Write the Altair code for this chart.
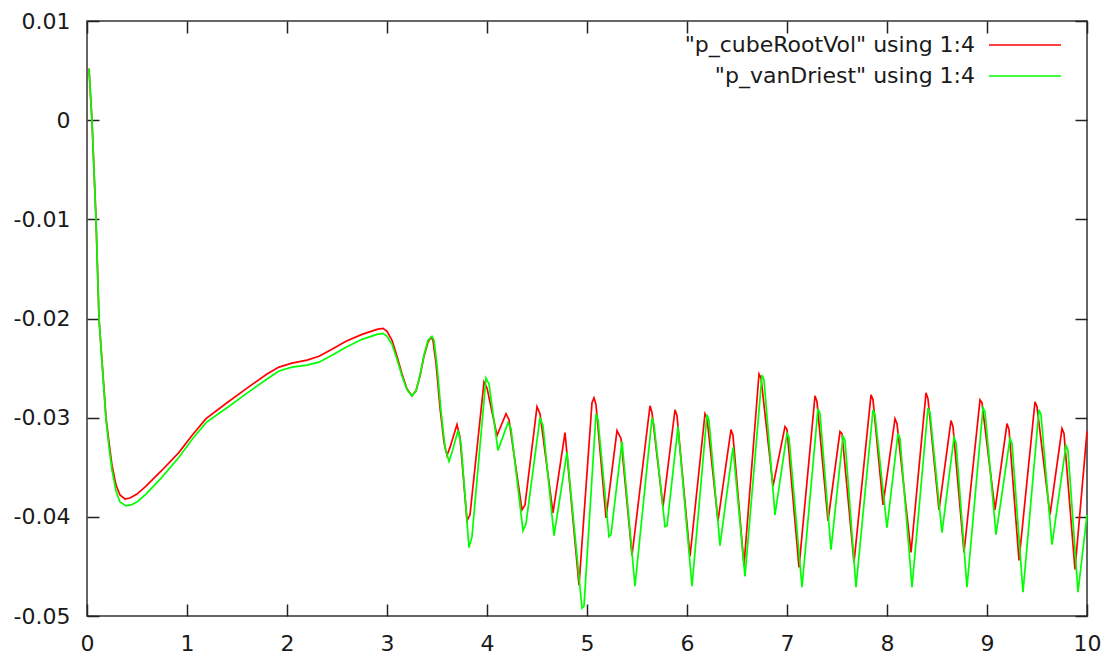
import altair as alt
import pandas as pd

# ---- data ----
series_names = ['"p_cubeRootVol" using 1:4', '"p_vanDriest" using 1:4']
series_colors = ["#ff0000", "#00ff00"]

red_x = [0.02, 0.05, 0.09, 0.12, 0.19, 0.22, 0.25, 0.29, 0.33, 0.38, 0.43, 0.50,
         0.59, 0.75, 0.92, 1.05, 1.19, 1.40, 1.59, 1.80, 1.92, 2.05, 2.20, 2.32,
         2.45, 2.59, 2.75, 2.90, 2.96, 3.00, 3.05, 3.10, 3.15, 3.20, 3.25, 3.29,
         3.33, 3.37, 3.41, 3.44, 3.46, 3.49, 3.53, 3.57, 3.60, 3.63, 3.70, 3.73,
         3.80, 3.83, 3.97, 4.00, 4.10, 4.19, 4.22, 4.35, 4.38, 4.50, 4.53, 4.66,
         4.78, 4.92, 5.05, 5.07, 5.09, 5.19, 5.30, 5.34, 5.45, 5.63, 5.65, 5.76,
         5.88, 5.90, 6.03, 6.18, 6.20, 6.31, 6.44, 6.46, 6.57, 6.72, 6.74, 6.86,
         6.98, 7.00, 7.12, 7.28, 7.30, 7.41, 7.53, 7.55, 7.67, 7.84, 7.86, 7.96,
         8.08, 8.10, 8.24, 8.39, 8.41, 8.52, 8.64, 8.66, 8.77, 8.93, 8.95, 9.08,
         9.20, 9.22, 9.32, 9.48, 9.50, 9.63, 9.75, 9.77, 9.88, 10.0]
red_y = [0.0052, -0.0001, -0.0100, -0.0200, -0.0300, -0.0325, -0.0348, -0.0368,
         -0.0378, -0.0382, -0.0381, -0.0377, -0.0369, -0.0353, -0.0335, -0.0318,
         -0.0301, -0.0285, -0.0271, -0.0256, -0.0249, -0.0245, -0.0242, -0.0238,
         -0.0231, -0.0223, -0.0216, -0.0211, -0.0210, -0.0213, -0.0222, -0.0238,
         -0.0256, -0.0271, -0.0278, -0.0273, -0.0258, -0.0238, -0.0224, -0.0219,
         -0.0222, -0.0245, -0.0290, -0.0325, -0.0338, -0.0330, -0.0307, -0.0320,
         -0.0404, -0.0398, -0.0264, -0.0270, -0.0318, -0.0296, -0.0302, -0.0393,
         -0.0388, -0.0289, -0.0296, -0.0396, -0.0315, -0.0469, -0.0285, -0.0280,
         -0.0287, -0.0401, -0.0313, -0.0321, -0.0439, -0.0288, -0.0295, -0.0390,
         -0.0292, -0.0298, -0.0440, -0.0296, -0.0300, -0.0404, -0.0312, -0.0318,
         -0.0449, -0.0256, -0.0260, -0.0369, -0.0309, -0.0312, -0.0451, -0.0278,
         -0.0284, -0.0404, -0.0314, -0.0316, -0.0446, -0.0277, -0.0282, -0.0388,
         -0.0301, -0.0306, -0.0436, -0.0275, -0.0281, -0.0393, -0.0303, -0.0309,
         -0.0436, -0.0282, -0.0285, -0.0393, -0.0306, -0.0312, -0.0444, -0.0284,
         -0.0289, -0.0398, -0.0311, -0.0316, -0.0453, -0.0314]

green_x = [0.02, 0.05, 0.09, 0.12, 0.19, 0.22, 0.25, 0.29, 0.33, 0.39, 0.44, 0.50,
           0.59, 0.75, 0.92, 1.05, 1.19, 1.40, 1.59, 1.80, 1.92, 2.05, 2.20, 2.32,
           2.45, 2.59, 2.75, 2.90, 2.96, 3.00, 3.05, 3.10, 3.15, 3.20, 3.25, 3.29,
           3.33, 3.37, 3.41, 3.45, 3.47, 3.50, 3.54, 3.58, 3.62, 3.65, 3.71, 3.74,
           3.82, 3.85, 3.99, 4.02, 4.11, 4.21, 4.24, 4.36, 4.39, 4.53, 4.56, 4.67,
           4.80, 4.95, 4.97, 5.09, 5.11, 5.22, 5.24, 5.35, 5.48, 5.65, 5.67, 5.78,
           5.80, 5.91, 6.05, 6.20, 6.22, 6.33, 6.46, 6.58, 6.75, 6.77, 6.88, 7.00,
           7.02, 7.15, 7.31, 7.33, 7.44, 7.56, 7.58, 7.69, 7.86, 7.88, 8.00, 8.11,
           8.13, 8.25, 8.41, 8.43, 8.55, 8.67, 8.69, 8.80, 8.96, 8.98, 9.09, 9.23,
           9.25, 9.36, 9.52, 9.54, 9.65, 9.79, 9.81, 9.91, 10.0]
green_y = [0.0052, -0.0001, -0.0100, -0.0200, -0.0302, -0.0330, -0.0353, -0.0374,
           -0.0385, -0.0389, -0.0388, -0.0385, -0.0377, -0.0360, -0.0340, -0.0322,
           -0.0305, -0.0290, -0.0276, -0.0261, -0.0253, -0.0249, -0.0247, -0.0244,
           -0.0237, -0.0229, -0.0221, -0.0216, -0.0215, -0.0218, -0.0226, -0.0241,
           -0.0258, -0.0272, -0.0278, -0.0273, -0.0257, -0.0237, -0.0222, -0.0218,
           -0.0222, -0.0247, -0.0293, -0.0330, -0.0344, -0.0335, -0.0313, -0.0326,
           -0.0431, -0.0420, -0.0260, -0.0266, -0.0333, -0.0305, -0.0311, -0.0414,
           -0.0407, -0.0300, -0.0308, -0.0419, -0.0335, -0.0492, -0.0490, -0.0296,
           -0.0302, -0.0420, -0.0418, -0.0324, -0.0470, -0.0300, -0.0307, -0.0410,
           -0.0409, -0.0309, -0.0470, -0.0297, -0.0303, -0.0429, -0.0330, -0.0460,
           -0.0257, -0.0262, -0.0398, -0.0316, -0.0320, -0.0471, -0.0291, -0.0296,
           -0.0433, -0.0319, -0.0323, -0.0471, -0.0292, -0.0297, -0.0411, -0.0316,
           -0.0321, -0.0471, -0.0290, -0.0295, -0.0416, -0.0320, -0.0325, -0.0471,
           -0.0290, -0.0294, -0.0418, -0.0321, -0.0326, -0.0476, -0.0292, -0.0297,
           -0.0428, -0.0328, -0.0333, -0.0476, -0.0398]

x_ticks = [0, 1, 2, 3, 4, 5, 6, 7, 8, 9, 10]
y_ticks = [-0.05, -0.04, -0.03, -0.02, -0.01, 0, 0.01]

rows = []
for i, (xs, ys) in enumerate([(red_x, red_y), (green_x, green_y)]):
    for k, (xv, yv) in enumerate(zip(xs, ys)):
        rows.append({"series": series_names[i], "x": xv, "y": yv, "k": k})
df = pd.DataFrame(rows)

FONT = "DejaVu Sans"
TICK = 12
common_axis = dict(grid=False, domain=False, tickSize=TICK, offset=-TICK,
                   tickColor="#222222", tickWidth=1.5, title=None,
                   labelFont=FONT, labelFontSize=22, labelColor="#1a1a1a",
                   labelFlush=False)

xscale = alt.Scale(domain=[0, 10], nice=False, zero=False)
yscale = alt.Scale(domain=[-0.05, 0.01], nice=False, zero=False)

lines = alt.Chart(df).mark_line(strokeWidth=1.7).encode(
    x=alt.X("x:Q", scale=xscale,
            axis=alt.Axis(orient="bottom", values=x_ticks, labelPadding=17,
                          labelExpr="'' + datum.value", **common_axis)),
    y=alt.Y("y:Q", scale=yscale,
            axis=alt.Axis(orient="left", values=y_ticks, labelPadding=17,
                          labelExpr="'' + datum.value", **common_axis)),
    color=alt.Color("series:N",
                    scale=alt.Scale(domain=series_names, range=series_colors),
                    legend=alt.Legend(orient="none", legendX=927, legendY=13,
                                      title=None,
                                      symbolType="M-3.6,0H3.6",
                                      symbolSize=400, symbolStrokeWidth=1.7,
                                      symbolFillColor="transparent",
                                      rowPadding=9,
                                      labelAlign="right",
                                      labelOffset={"expr": "-61"},
                                      labelFont=FONT, labelFontSize=22,
                                      labelColor="#1a1a1a", labelLimit=600,
                                      padding=0)),
    order="k:Q",
)

mirror = alt.Chart(df).mark_line(opacity=0).encode(
    x=alt.X("x:Q", scale=xscale,
            axis=alt.Axis(orient="top", values=x_ticks, labels=False, **common_axis)),
    y=alt.Y("y:Q", scale=yscale,
            axis=alt.Axis(orient="right", values=y_ticks, labels=False, **common_axis)),
    detail="series:N",
    order="k:Q",
)

chart = alt.layer(lines, mirror).resolve_axis(
    x="independent", y="independent"
).properties(
    width=1000, height=595,
    autosize=alt.AutoSizeParams(type="none"),
    padding={"left": 79, "top": 13, "right": 14, "bottom": 40},
    background="white",
).configure_view(stroke="#333333", strokeWidth=1.5)

chart.save("out.html", embed_options={"renderer": "svg", "actions": False})
